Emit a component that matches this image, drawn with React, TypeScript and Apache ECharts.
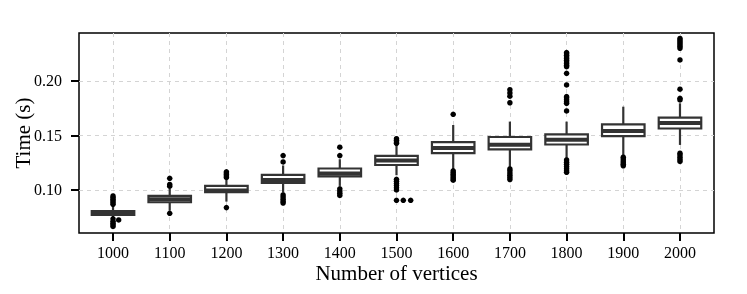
import React, { useEffect, useRef } from "react";
import * as echarts from "echarts";

const categories = [1000, 1100, 1200, 1300, 1400, 1500, 1600, 1700, 1800, 1900, 2000];
const lowerWhisker = [0.0745, 0.081, 0.0893, 0.0975, 0.1037, 0.1135, 0.1183, 0.12, 0.129, 0.1315, 0.1413];
const q1 = [0.0771, 0.0887, 0.0979, 0.1064, 0.1124, 0.1229, 0.1337, 0.1372, 0.1417, 0.1493, 0.1564];
const median = [0.0789, 0.0915, 0.0995, 0.1092, 0.1151, 0.1271, 0.1385, 0.1415, 0.1461, 0.1541, 0.1615];
const q3 = [0.0807, 0.0945, 0.1037, 0.1138, 0.1197, 0.1312, 0.1438, 0.1486, 0.1509, 0.1601, 0.1663];
const upperWhisker = [0.086, 0.1015, 0.11, 0.1225, 0.1282, 0.1413, 0.1596, 0.1627, 0.1627, 0.1764, 0.1795];

const outliers: number[][] = [
  [0.0868, 0.0885, 0.09, 0.0915, 0.093, 0.0945, 0.0735, 0.0712, 0.0695, 0.068, 0.0665],
  [0.1107, 0.105, 0.1035, 0.0786],
  [0.1115, 0.1128, 0.1142, 0.1155, 0.1166, 0.0838],
  [0.1257, 0.1315, 0.0954, 0.0935, 0.0915, 0.0895, 0.088],
  [0.1315, 0.1392, 0.101, 0.099, 0.097, 0.095],
  [0.1428, 0.144, 0.1455, 0.147, 0.1098, 0.108, 0.106, 0.104, 0.102, 0.1],
  [0.1694, 0.1175, 0.116, 0.1145, 0.113, 0.1115, 0.11, 0.109],
  [0.18, 0.186, 0.189, 0.192, 0.1193, 0.1175, 0.1155, 0.1135, 0.1115, 0.1095],
  [0.1725, 0.1795, 0.181, 0.1828, 0.1845, 0.1856, 0.1963, 0.207, 0.2131, 0.2145, 0.216, 0.2175, 0.219, 0.2205, 0.222, 0.2235, 0.225, 0.226,
   0.1275, 0.1255, 0.1235, 0.1215, 0.1195, 0.1175, 0.1162],
  [0.13, 0.1283, 0.1266, 0.125, 0.1235, 0.1222],
  [0.1826, 0.1841, 0.1924, 0.2193, 0.23, 0.2315, 0.233, 0.2345, 0.236, 0.2375, 0.239, 0.1337, 0.132, 0.13, 0.128, 0.1262],
];
// points drawn off the box centre line
const offsetX = [1010, 1500, 1512, 1525];
const offsetY = [0.0725, 0.0905, 0.0905, 0.0905];

const yTicks = [0.1, 0.15, 0.2];

const BOX_WIDTH = 75;
const DARK = "#333333";
const FONT = "Liberation Serif";

export default function App() {
  const ref = useRef<HTMLDivElement>(null);
  useEffect(() => {
    if (!ref.current) return;
    const chart = echarts.init(ref.current, null, { renderer: "svg" });
    const boxData = categories.map((c, i) => [c, lowerWhisker[i], q1[i], median[i], q3[i], upperWhisker[i]]);
    const outlierData: number[][] = [];
    categories.forEach((c, i) => outliers[i].forEach((v) => outlierData.push([c, v])));
    offsetX.forEach((x, i) => outlierData.push([x, offsetY[i]]));

    chart.setOption({
      animation: false,
      grid: {
        left: 79, right: 33, top: 33, bottom: 61,
        outerBoundsMode: "none",
        containLabel: false,
        show: true, borderColor: "#000", borderWidth: 1.5, backgroundColor: "transparent",
      },
      xAxis: {
        type: "value",
        min: 940,
        max: 2060,
        name: "Number of vertices",
        nameLocation: "middle",
        nameGap: 29,
        nameMoveOverlap: false,
        nameTextStyle: { fontFamily: FONT, fontSize: 21, color: "#000" },
        axisLine: { show: false },
        axisTick: { show: true, length: 8, lineStyle: { color: "#000", width: 2 }, customValues: categories },
        axisLabel: {
          customValues: categories, fontFamily: FONT, fontSize: 16, color: "#000", margin: 11,
          formatter: (v: number) => String(v),
        },
        splitLine: { show: true, lineStyle: { color: "#d4d4d4", type: [4, 4], width: 1 } },
      },
      yAxis: {
        type: "value",
        min: 0.0605,
        max: 0.244,
        name: "Time (s)",
        nameLocation: "middle",
        nameGap: 46,
        nameMoveOverlap: false,
        nameRotate: 90,
        nameTextStyle: { fontFamily: FONT, fontSize: 21, color: "#000" },
        axisLine: { show: false },
        axisTick: { show: true, length: 8, lineStyle: { color: "#000", width: 2 }, customValues: yTicks },
        axisLabel: {
          customValues: yTicks,
          fontFamily: FONT,
          fontSize: 16,
          color: "#000",
          margin: 17,
          formatter: (v: number) => v.toFixed(2),
        },
        splitLine: { show: true, lineStyle: { color: "#d4d4d4", type: [4, 4], width: 1 } },
      },
      series: [
        {
          type: "custom",
          data: boxData,
          encode: { x: 0, y: [1, 2, 3, 4, 5] },
          renderItem: (_params: any, api: any) => {
            const x = api.value(0);
            const lo = api.coord([x, api.value(1)]);
            const b1 = api.coord([x, api.value(2)]);
            const md = api.coord([x, api.value(3)]);
            const b3 = api.coord([x, api.value(4)]);
            const hi = api.coord([x, api.value(5)]);
            const w = api.size([BOX_WIDTH, 0])[0];
            const cx = lo[0];
            return {
              type: "group",
              children: [
                { type: "line", shape: { x1: cx, y1: hi[1], x2: cx, y2: b3[1] }, style: { stroke: DARK, lineWidth: 2.2 } },
                { type: "line", shape: { x1: cx, y1: b1[1], x2: cx, y2: lo[1] }, style: { stroke: DARK, lineWidth: 2.2 } },
                {
                  type: "rect",
                  shape: { x: cx - w / 2, y: b3[1], width: w, height: b1[1] - b3[1] },
                  style: { fill: "#fff", stroke: DARK, lineWidth: 2.2 },
                },
                { type: "line", shape: { x1: cx - w / 2, y1: md[1], x2: cx + w / 2, y2: md[1] }, style: { stroke: DARK, lineWidth: 4 } },
              ],
            };
          },
        },
        {
          type: "scatter",
          data: outlierData,
          symbol: "circle",
          symbolSize: 5.5,
          itemStyle: { color: "#000", opacity: 1 },
          z: 3,
        },
      ],
    });
    return () => chart.dispose();
  }, []);
  return <div ref={ref} style={{ position: "fixed", left: 0, top: 0, width: 747, height: 294 }} />;
}
